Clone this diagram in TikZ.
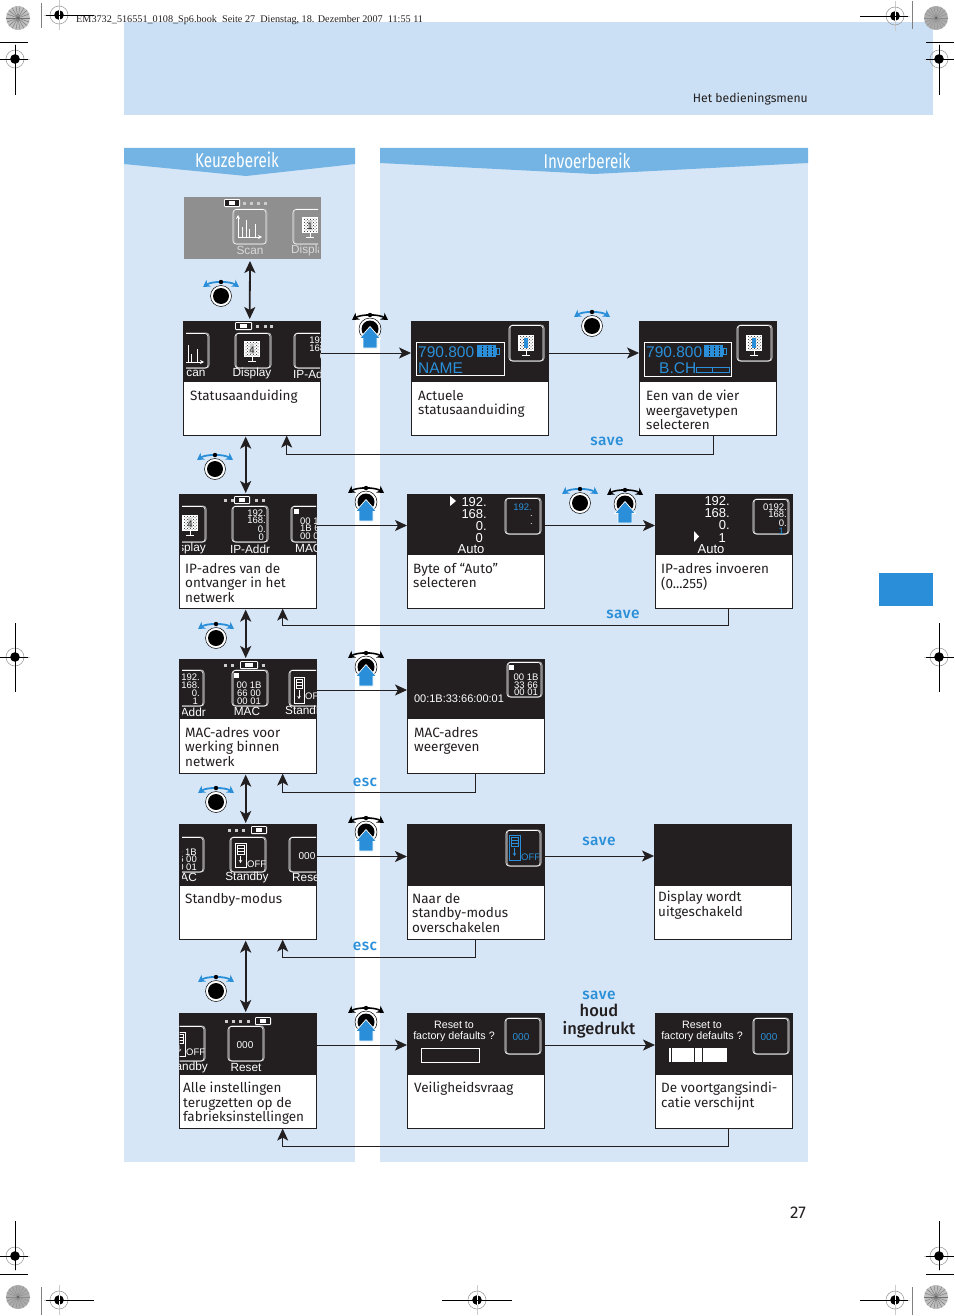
\documentclass[tikz,border=0pt]{standalone}
\usepackage{fontspec}
\setmainfont{Fira Sans}
\newfontfamily\medfont{Fira Sans Medium}
\newfontfamily\lcdfont{Liberation Sans}
\newfontfamily\topfont{Liberation Serif}
\usetikzlibrary{arrows.meta, patterns}

\definecolor{ink}{HTML}{231F20}
\definecolor{panelblue}{HTML}{D6E6F6}
\definecolor{bandblue}{HTML}{CBE0F4}
\definecolor{hdrblue}{HTML}{73B4E4}
\definecolor{accent}{HTML}{2A8FD8}

\tikzset{
  >={Stealth[length=12pt, width=11pt, inset=3pt]},
  card/.style = {draw = ink, line width = 0.8, fill = white, anchor = north west, inner sep = 0, outer sep = 0, minimum width = 137.4, minimum height = 114.6},
  screen/.style = {fill = ink, anchor = north west, inner sep = 0, outer sep = 0, minimum width = 137.4, minimum height = 61},
  cardtxt/.style = {anchor = north west, align = left, inner sep = 0, yshift = -1.8pt, text = ink, font = \fontsize{13.5}{14.5}\selectfont},
  keytxt/.style = {inner sep = 0, yshift = -1pt, text = accent, font = \medfont\addfontfeature{LetterSpace=3}\fontsize{15.5}{15.5}\selectfont},
  lcd/.style = {inner sep = 0, yshift = -0.8pt, text = white, font = \lcdfont\fontsize{11.8}{11.8}\selectfont},
  lcdnum/.style = {lcd, font = \lcdfont\fontsize{9.5}{9.5}\selectfont},
  lcdbig/.style = {lcd, font = \lcdfont\fontsize{13}{13}\selectfont},
  lcdtune/.style = {lcd, text = accent, font = \lcdfont\fontsize{15.5}{15.5}\selectfont},
  conn/.style = {ink, line width = 0.8},
  updown/.style = {ink, line width = 1.8},
  crop/.style = {black, line width = 0.9},
  icon/.style = {white, line width = 0.6, rounded corners = 3},
  iconshade/.style = {gray!70, line width = 1, rounded corners = 3},
}

\newcommand\iconbox[4]{
  \draw[iconshade] (#1 + 1, #2) rectangle (#3 + 1, #4);
  \draw[icon] (#1, #2 + 0.5) rectangle (#3, #4);
}
\newcommand\monitor[4]{
  \fill[white] (#1 - 8, #2 - 8) rectangle (#1 + 8, #2 + 8);
  \fill[pattern = crosshatch dots, pattern color = ink] (#1 - 6.5, #2 - 6.5) rectangle (#1 + 6.5, #2 + 6.5);
  \fill[#4] (#1 - 2, #2 - 5) rectangle (#1 + 2, #2 + 5);
  \draw[white, line width = 0.9] (#1, #2 + 8) -- (#1, #2 + 12) (#1 - 4, #2 + 12) -- (#1 + 4, #2 + 12);
  \node[lcdnum, text = ink] (mon#1) at (#1, #2) {#3};
}
\newcommand\scanplot[2]{
  \draw[white, line width = 0.6, -{Stealth[length=4pt, width=4pt]}] (#1, #2) -- (#1 + 24, #2);
  \draw[white, line width = 0.6, -{Stealth[length=4pt, width=4pt]}] (#1, #2) -- (#1, #2 - 22);
  \draw[white, line width = 0.6] (#1 + 4, #2) -- ++(0, -10) (#1 + 8, #2) -- ++(0, -17) (#1 + 11, #2) -- ++(0, -8) (#1 + 17, #2) -- ++(0, -13);
}
\newcommand\standbydoc[5]{
  \draw[#5, line width = 0.7] (#1, #2) rectangle (#3, #4);
  \draw[#5, line width = 0.5] (#1 + 2, #2 + 2) rectangle (#3 - 2, #2 + 11);
  \draw[#5, line width = 0.5] (#1 + 2, #2 + 5) -- (#3 - 2, #2 + 5) (#1 + 2, #2 + 8) -- (#3 - 2, #2 + 8);
  \draw[#5, line width = 0.6, -{Stealth[length=3pt, width=3.5pt]}] ({(#1 + #3) / 2}, #2 + 13) -- ({(#1 + #3) / 2}, #4 - 4);
}
\newcommand\battery[3]{
  \fill[white, rounded corners = 1] (#1, #3 - 4) rectangle (#2, #3 + 4);
  \fill[ink] (#1 + 1.3, #3 - 2.7) rectangle (#2 - 1.5, #3 + 2.7);
  \fill[white] (#1 + 5, #3 - 2) rectangle (#2 - 5, #3 + 2);
}
\newcommand\menudots[2]{
  \foreach \px in {#2} {
    \fill[white!80!black] (\px - 1.5, #1 - 1.5) rectangle (\px + 1.5, #1 + 1.5);
  }
}
\newcommand\tunebatt[2]{
  \fill[accent] (#1, #2) rectangle (#1 + 19, #2 + 12);
  \draw[accent, line width = 0.8] (#1 + 19, #2 + 3) rectangle (#1 + 22, #2 + 9);
  \draw[ink, line width = 0.5, densely dotted] (#1 + 5, #2 + 1) -- (#1 + 5, #2 + 11) (#1 + 10, #2 + 1) -- (#1 + 10, #2 + 11) (#1 + 15, #2 + 1) -- (#1 + 15, #2 + 11);
}
\newcommand\knobturn[2]{
  \draw[accent, line width = 1.8, {Stealth[length=7pt, width=8pt]}-{Stealth[length=7pt, width=8pt]}] (#1 - 18, #2 - 9) .. controls (#1 - 9, #2 - 15) and (#1 + 9, #2 - 15) .. (#1 + 18, #2 - 9);
  \fill[black] (#1, #2 - 14) circle (2.2pt);
  \fill[white] (#1, #2) circle (10.5pt);
  \draw[black, line width = 0.5] (#1, #2) circle (10.5pt);
  \fill[black] (#1, #2) circle (8pt);
}
\newcommand\knobpress[2]{
  \draw[black, line width = 1.6, {Stealth[length=7pt, width=8pt]}-{Stealth[length=7pt, width=8pt]}] (#1 - 18, #2 - 9) .. controls (#1 - 9, #2 - 15) and (#1 + 9, #2 - 15) .. (#1 + 18, #2 - 9);
  \fill[black] (#1, #2 - 14) circle (2.2pt);
  \fill[white] (#1, #2) circle (11pt);
  \draw[black, line width = 0.5] (#1, #2) circle (11pt);
  \fill[black] (#1, #2) circle (8.5pt);
  \draw[white, line width = 0.7, fill = accent] (#1, #2 - 2.5) -- (#1 + 10.5, #2 + 9.5) -- (#1 + 7, #2 + 9.5) -- (#1 + 7, #2 + 19) -- (#1 - 7, #2 + 19) -- (#1 - 7, #2 + 9.5) -- (#1 - 10.5, #2 + 9.5) -- cycle;
}
\newcommand\regmark[2]{
  \draw[gray!40, line width = 0.4] (#1, #2 - 15) -- (#1, #2 + 15) (#1 - 15, #2) -- (#1 + 15, #2);
  \draw[gray!75, line width = 0.6] (#1, #2) circle (9pt);
  \fill[black] (#1, #2) circle (4.8pt);
  \draw[white, line width = 0.5] (#1 - 5, #2) -- (#1 + 5, #2) (#1, #2 - 5) -- (#1, #2 + 5);
}
\newcommand\regdisc[4]{
  \fill[gray!#3] (#1, #2) circle (12pt);
  \foreach \ang in {0, 20, ..., 340} {
    \draw[black!#4, line width = 0.4] (#1, #2) -- ++(\ang:12);
  }
  \fill[black!60] (#1, #2) circle (1.5pt);
}

\begin{document}
\begin{tikzpicture}[x = 1pt, y = -1pt]
\useasboundingbox (0, 0) rectangle (954, 1316);

% panels
\fill[bandblue] (124, 22) rectangle (933, 115);
\fill[panelblue] (124, 148) rectangle (355, 1162);
\fill[panelblue] (380, 148) rectangle (808, 1162);
\fill[hdrblue] (124, 148) -- (355, 148) -- (355, 164) -- (246, 176) -- (124, 164) -- cycle;
\fill[hdrblue] (380, 148) -- (808, 148) -- (808, 163) -- (594, 174) -- (380, 163) -- cycle;
\fill[accent] (879, 573) rectangle (933, 606);
\node[white, inner sep = 0, font = \fontsize{20}{20}\selectfont] (keuze) at (237, 160) {\scalebox{0.76}[1]{Keuzebereik}};
\node[white, inner sep = 0, font = \fontsize{20}{20}\selectfont] (invoer) at (587, 161) {\scalebox{0.76}[1]{Invoerbereik}};
\node[anchor = west, inner sep = 0, text = ink, font = \topfont\fontsize{10.2}{10.2}\selectfont] (bookline) at (76, 20) {EM3732\_516551\_0108\_Sp6.book\ \ Seite 27\ \ Dienstag, 18. Dezember 2007\ \ 11:55 11};
\node[anchor = east, inner sep = 0, text = ink, font = \fontsize{12.2}{12.2}\selectfont] (chapter) at (808, 99) {Het bedieningsmenu};
\node[inner sep = 0, text = ink, font = \fontsize{17}{17}\selectfont] (pagenr) at (798, 1213) {27};

% print marks
\regdisc{18}{18}{50}{55}
\regdisc{936}{18}{65}{45}
\regdisc{18}{1297}{65}{45}
\regdisc{936}{1297}{50}{55}
\regmark{59}{15}
\regmark{15}{59}
\regmark{895}{16}
\regmark{939}{59}
\regmark{15}{657}
\regmark{939}{657}
\regmark{15}{1256}
\regmark{939}{1256}
\regmark{59}{1300}
\regmark{477}{1300}
\regmark{895}{1300}
\draw[crop] (46, 15) -- (94, 15);
\draw[crop] (860, 16) -- (908, 16);
\draw[crop] (46, 1300) -- (94, 1300);
\draw[crop] (860, 1300) -- (908, 1300);
\draw[crop] (442, 1300) -- (512, 1300);
\draw[crop] (0, 59) -- (28, 59) (15, 45) -- (15, 95);
\draw[crop] (926, 59) -- (954, 59) (939, 45) -- (939, 95);
\draw[crop] (0, 657) -- (28, 657) (15, 623) -- (15, 692);
\draw[crop] (926, 657) -- (954, 657) (939, 623) -- (939, 692);
\draw[crop] (0, 1256) -- (28, 1256) (15, 1221) -- (15, 1270);
\draw[crop] (926, 1256) -- (954, 1256) (939, 1221) -- (939, 1270);
\draw[crop] (0, 42) -- (28, 42) (926, 42) -- (954, 42);
\draw[crop] (0, 1274) -- (28, 1274) (926, 1274) -- (954, 1274);
\draw[gray, line width = 0.7] (41.5, 3) -- (41.5, 28) (912.5, 1) -- (912.5, 29);
\draw[gray, line width = 0.7] (41.5, 1287) -- (41.5, 1315) (912.5, 1287) -- (912.5, 1315);

% cards, rows from top to bottom
\node[screen, fill = black!44, minimum width = 137, minimum height = 62] (scan) at (184, 197) {};
\node[card] (status) at (183, 321) {};
\node[card] (actueel) at (411, 321) {};
\node[card] (vier) at (639, 321) {};
\node[screen] (statusscr) at (183, 321) {};
\node[screen] (actueelscr) at (411, 321) {};
\node[screen] (vierscr) at (639, 321) {};
\node[card] (ipadres) at (179, 494) {};
\node[card] (byte) at (407, 494) {};
\node[card] (invoeren) at (655, 494) {};
\node[screen] (ipadresscr) at (179, 494) {};
\node[screen] (bytescr) at (407, 494) {};
\node[screen] (invoerenscr) at (655, 494) {};
\node[card] (mac) at (179, 659) {};
\node[card] (macshow) at (407, 659) {};
\node[screen, minimum height = 60] (macscr) at (179, 659) {};
\node[screen, minimum height = 60] (macshowscr) at (407, 659) {};
\node[card, minimum height = 115.6] (standby) at (179, 824) {};
\node[card, minimum height = 115.6] (naar) at (407, 824) {};
\node[card, minimum height = 115.6] (uit) at (654, 824) {};
\node[screen, minimum height = 62] (standbyscr) at (179, 824) {};
\node[screen, minimum height = 62] (naarscr) at (407, 824) {};
\node[screen, minimum height = 62] (uitscr) at (654, 824) {};
\node[card, minimum height = 115.6] (alles) at (179, 1013) {};
\node[card, minimum height = 115.6] (veilig) at (407, 1013) {};
\node[card, minimum height = 115.6] (voort) at (655, 1013) {};
\node[screen, minimum height = 62] (allesscr) at (179, 1013) {};
\node[screen, minimum height = 62] (veiligscr) at (407, 1013) {};
\node[screen, minimum height = 62] (voortscr) at (655, 1013) {};

% card texts
\node[cardtxt] (tstatus) at (190, 388) {Statusaanduiding};
\node[cardtxt] (tactueel) at (418, 388) {Actuele\\statusaanduiding};
\node[cardtxt] (tvier) at (646, 388) {Een van de vier\\weergavetypen\\selecteren};
\node[cardtxt] (tipadres) at (185, 561) {IP-adres van de\\ontvanger in het\\netwerk};
\node[cardtxt] (tbyte) at (413, 561) {Byte of ``Auto''\\selecteren};
\node[cardtxt] (tinvoeren) at (661, 561) {IP-adres invoeren\\(0...255)};
\node[cardtxt] (tmac) at (185, 725) {MAC-adres voor\\werking binnen\\netwerk};
\node[cardtxt] (tmacshow) at (414, 725) {MAC-adres\\weergeven};
\node[cardtxt] (tstandby) at (185, 891) {Standby-modus};
\node[cardtxt] (tnaar) at (412, 891) {Naar de\\standby-modus\\overschakelen};
\node[cardtxt] (tuit) at (658, 889) {Display wordt\\uitgeschakeld};
\node[cardtxt] (talles) at (183, 1080) {Alle instellingen\\terugzetten op de\\fabrieksinstellingen};
\node[cardtxt] (tveilig) at (414, 1080) {Veiligheidsvraag};
\node[cardtxt] (tvoort) at (661, 1080) {De voortgangsindi-\\catie verschijnt};

% display contents
\begin{scope}
\clip (184, 197) rectangle (318, 259);
\menudots{203}{244, 251, 258, 265}
\battery{224}{240}{203}
\iconbox{233}{209}{266}{244}
\scanplot{238}{237}
\iconbox{293}{209}{328}{244}
\monitor{310}{225}{1}{gray!40}
\node[lcd, text = white!85!black] (lscan) at (250, 250) {Scan};
\node[lcd, text = white!85!black, anchor = west] (ldispla) at (291, 250) {Display};
\end{scope}

\begin{scope}
\clip (186, 321) rectangle (320, 382);
\battery{235}{252}{326}
\menudots{326}{257, 265, 271}
\iconbox{170}{333}{208}{368}
\scanplot{180}{362}
\iconbox{235}{333}{270}{368}
\monitor{252}{349}{4}{gray!40}
\iconbox{294}{333}{340}{368}
\node[lcdnum, anchor = east] (l1a) at (328, 339) {192.};
\node[lcdnum, anchor = east] (l1b) at (328, 347) {168.};
\node[lcdnum, anchor = east] (l1c) at (328, 355) {0.};
\node[lcdnum, anchor = east] (l1d) at (328, 362) {0};
\node[lcd] (l1e) at (196, 373) {can};
\node[lcd] (l1f) at (252, 373) {Display};
\node[lcd, anchor = west] (l1g) at (293, 373) {IP-Addr};
\end{scope}

\draw[white, line width = 0.7] (416, 342) rectangle (504, 375);
\node[lcdtune, anchor = west] (l2a) at (418, 351) {790.800};
\node[lcdtune, anchor = west] (l2b) at (418, 367) {NAME};
\tunebatt{477}{345}
\iconbox{509}{325}{543}{361}
\monitor{526}{343}{}{accent}

\draw[white, line width = 0.7] (644, 342) rectangle (731, 376);
\node[lcdtune, anchor = west] (l3a) at (646, 351) {790.800};
\node[lcdtune, anchor = west] (l3b) at (659, 367) {B.CH};
\tunebatt{704}{345}
\draw[accent, line width = 0.6] (696, 367) rectangle (712, 372) (712, 367) rectangle (729, 372);
\iconbox{737}{325}{771}{361}
\monitor{754}{343}{}{accent}

\begin{scope}
\clip (182, 494) rectangle (316, 556);
\menudots{500}{225, 232, 256, 263}
\battery{234}{250}{500}
\iconbox{165}{506}{205}{542}
\monitor{190}{523}{4}{gray!40}
\iconbox{232}{506}{267}{542}
\node[lcdnum, anchor = east] (l4a) at (266, 512) {192.};
\node[lcdnum, anchor = east] (l4b) at (266, 519) {168.};
\node[lcdnum, anchor = east] (l4c) at (266, 528) {0.};
\node[lcdnum, anchor = east] (l4d) at (264, 536) {0};
\iconbox{291}{506}{335}{542}
\fill[white] (293.5, 508.5) rectangle (298.5, 513.5);
\node[lcdnum, anchor = west] (l4e) at (300, 520) {00 1B};
\node[lcdnum, anchor = west] (l4f) at (300, 527) {1B 66};
\node[lcdnum, anchor = west] (l4g) at (300, 535) {00 00};
\node[lcd, anchor = east] (l4h) at (206, 548) {Display};
\node[lcd] (l4i) at (250, 548) {IP-Addr};
\node[lcd, anchor = west] (l4j) at (295, 548) {MAC};
\end{scope}

\fill[white] (450, 496) -- (456, 501) -- (450, 506) -- cycle;
\node[lcdbig, anchor = east] (l5a) at (487, 501) {192.};
\node[lcdbig, anchor = east] (l5b) at (487, 513) {168.};
\node[lcdbig, anchor = east] (l5c) at (487, 525) {0.};
\node[lcdbig, anchor = east] (l5d) at (483, 537) {0};
\node[lcdbig] (l5e) at (471, 548) {Auto};
\iconbox{505}{498}{540}{534}
\node[lcdnum, text = accent, anchor = east] (l5f) at (532, 506) {192.};
\node[lcdnum, anchor = east] (l5g) at (533, 515) {.};
\node[lcdnum, anchor = east] (l5h) at (533, 523) {.};

\node[lcdbig, anchor = east] (l6a) at (730, 500) {192.};
\node[lcdbig, anchor = east] (l6b) at (730, 512) {168.};
\node[lcdbig, anchor = east] (l6c) at (730, 524) {0.};
\node[lcdbig, anchor = east] (l6d) at (726, 537) {1};
\fill[white] (694, 531) -- (699, 536.5) -- (694, 542) -- cycle;
\node[lcdbig] (l6e) at (711, 548) {Auto};
\iconbox{753}{499}{788}{534}
\node[lcdnum, anchor = east] (l6f) at (787, 506) {0192.};
\node[lcdnum, anchor = east] (l6g) at (787, 513) {168.};
\node[lcdnum, anchor = east] (l6h) at (787, 522) {0.};
\node[lcdnum, text = accent, anchor = east] (l6i) at (784, 530) {1};

\begin{scope}
\clip (182, 659) rectangle (316, 719);
\menudots{665}{225, 232, 263}
\battery{240}{258}{665}
\iconbox{160}{670}{203}{706}
\node[lcdnum, anchor = east] (l7a) at (200, 676) {192.};
\node[lcdnum, anchor = east] (l7b) at (200, 684) {168.};
\node[lcdnum, anchor = east] (l7c) at (200, 692) {0.};
\node[lcdnum, anchor = east] (l7d) at (198, 700) {1};
\iconbox{232}{670}{267}{706}
\fill[white] (233.5, 672.5) rectangle (238.5, 677.5);
\node[lcdnum] (l7e) at (249, 684) {00 1B};
\node[lcdnum] (l7f) at (249, 692) {66 00};
\node[lcdnum] (l7g) at (249, 700) {00 01};
\iconbox{289}{670}{335}{706}
\standbydoc{294}{677}{304}{703}{white}
\node[lcdnum, anchor = west] (l7h) at (305, 695) {OFF};
\node[lcd, anchor = east] (l7i) at (206, 711) {IP-Addr};
\node[lcd] (l7j) at (247, 711) {MAC};
\node[lcd, anchor = west] (l7k) at (285, 711) {Standby};
\end{scope}

\node[lcd, font = \lcdfont\fontsize{11}{11}\selectfont] (l8a) at (459, 698) {00:1B:33:66:00:01};
\iconbox{507}{662}{541}{697}
\fill[white] (508.5, 664.5) rectangle (513.5, 669.5);
\node[lcdnum] (l8b) at (526, 676) {00 1B};
\node[lcdnum] (l8c) at (526, 684) {33 66};
\node[lcdnum] (l8d) at (526, 691) {00 01};

\begin{scope}
\clip (182, 824) rectangle (316, 886);
\menudots{830}{229, 236, 243}
\battery{251}{267}{830}
\iconbox{160}{837}{203}{872}
\node[lcdnum, anchor = east] (l9a) at (197, 851) {00 1B};
\node[lcdnum, anchor = east] (l9b) at (197, 858) {66 00};
\node[lcdnum, anchor = east] (l9c) at (197, 866) {00 01};
\iconbox{230}{837}{265}{872}
\standbydoc{235}{843}{246}{867}{white}
\node[lcdnum, anchor = west] (l9d) at (247, 863) {OFF};
\iconbox{289}{837}{335}{872}
\node[lcd, font = \lcdfont\fontsize{10}{10}\selectfont] (l9e) at (307, 855) {000};
\node[lcd, anchor = east] (l9f) at (197, 877) {MAC};
\node[lcd] (l9g) at (247, 877) {Standby};
\node[lcd, anchor = west] (l9h) at (292, 877) {Reset};
\end{scope}

\iconbox{506}{830}{540}{866}
\standbydoc{509}{835}{520}{860}{accent}
\node[lcdnum, text = accent, anchor = west] (l10a) at (521, 856) {OFF};

\begin{scope}
\clip (179.5, 1013) rectangle (316, 1075);
\menudots{1021}{226, 233, 240, 248}
\battery{255}{271}{1021}
\iconbox{160}{1026}{204}{1061}
\standbydoc{174}{1032}{185}{1056}{white}
\node[lcdnum, anchor = west] (l11a) at (186, 1051) {OFF};
\iconbox{228}{1026}{263}{1061}
\node[lcd, font = \lcdfont\fontsize{10}{10}\selectfont] (l11b) at (245, 1044) {000};
\node[lcd, anchor = east] (l11c) at (208, 1067) {Standby};
\node[lcd] (l11d) at (246, 1067) {Reset};
\end{scope}

\node[lcd, font = \lcdfont\fontsize{10.7}{10.7}\selectfont] (l12a) at (454, 1024) {Reset to};
\node[lcd, font = \lcdfont\fontsize{10.7}{10.7}\selectfont] (l12b) at (454, 1036) {factory defaults ?};
\draw[white, line width = 0.7] (421, 1048) rectangle (479, 1062);
\iconbox{505}{1018}{540}{1054}
\node[lcd, text = accent, font = \lcdfont\fontsize{10}{10}\selectfont] (l12c) at (521, 1036) {000};

\node[lcd, font = \lcdfont\fontsize{10.7}{10.7}\selectfont] (l13a) at (702, 1024) {Reset to};
\node[lcd, font = \lcdfont\fontsize{10.7}{10.7}\selectfont] (l13b) at (702, 1036) {factory defaults ?};
\fill[white] (669, 1048) rectangle (727, 1062);
\draw[ink, line width = 0.7] (671, 1048) -- (671, 1062) (694, 1048) -- (694, 1062) (702, 1048) -- (702, 1062);
\iconbox{753}{1018}{788}{1054}
\node[lcd, text = accent, font = \lcdfont\fontsize{10}{10}\selectfont] (l13c) at (769, 1036) {000};

% turning between the menu items
\draw[updown, <->] ([xshift = -2.5pt, yshift = -2pt]scan.south) -- ([xshift = -2pt, yshift = 2pt]status.north);
\draw[updown, <->] ([xshift = -6pt, yshift = -1pt]status.south) -- ([xshift = -2pt, yshift = 1pt]ipadres.north);
\draw[updown, <->] ([xshift = -2pt, yshift = -1pt]ipadres.south) -- ([xshift = -2pt, yshift = 1pt]mac.north);
\draw[updown, <->] ([xshift = -2pt, yshift = -1pt]mac.south) -- ([xshift = -2pt, yshift = 1pt]standby.north);
\draw[updown, <->] ([xshift = -2pt, yshift = -1pt]standby.south) -- ([xshift = -2pt, yshift = 1pt]alles.north);

% going on to the next step
\draw[conn, ->] ([xshift = 1pt, yshift = -1.5pt]statusscr.east) -- ([yshift = -1.5pt]actueelscr.west);
\draw[conn, ->] ([yshift = -1.5pt]actueelscr.east) -- ([yshift = -1.5pt]vierscr.west);
\draw[conn, ->] ([yshift = -1pt]ipadresscr.east) -- ([yshift = -1pt]bytescr.west);
\draw[conn, ->] ([yshift = -1pt]bytescr.east) -- ([yshift = -1pt]invoerenscr.west);
\draw[conn, ->] ([xshift = 1pt, yshift = -1pt]macscr.east) -- ([yshift = -1pt]macshowscr.west);
\draw[conn, line width = 1.6, ->] ([xshift = 1pt, yshift = -1.5pt]standbyscr.east) -- ([yshift = -1.5pt]naarscr.west);
\draw[conn, ->] ([yshift = -1pt]naarscr.east) -- ([yshift = -1pt]uitscr.west);
\draw[conn, ->] ([xshift = 1pt, yshift = -1pt]allesscr.east) -- ([yshift = -1pt]veiligscr.west);
\draw[conn, ->] ([yshift = -1pt]veiligscr.east) -- ([yshift = -1pt]voortscr.west);

% going back
\draw[conn, ->] ([xshift = 6pt]vier.south) -- ++(0, 19) -| ([xshift = 35pt]status.south);
\draw[conn, line width = 1.3, ->] ([xshift = 5pt]invoeren.south) -- ++(0, 17) -| ([xshift = 35pt]ipadres.south);
\draw[conn, ->] (macshow.south) -- ++(0, 19) -| ([xshift = 35pt]mac.south);
\draw[conn, line width = 1.2, ->] (naar.south) -- ++(0, 18) -| ([xshift = 35pt]standby.south);
\draw[conn, ->] ([xshift = 5pt]voort.south) -- ++(0, 18) -| ([xshift = 35pt]alles.south);

\node[keytxt] (save1) at (607, 440) {save};
\node[keytxt] (save2) at (623, 613) {save};
\node[keytxt] (esc1) at (365, 781) {esc};
\node[keytxt] (save3) at (599, 840) {save};
\node[keytxt] (esc2) at (365, 945) {esc};
\node[keytxt] (save4) at (599, 994) {save};
\node[inner sep = 0, align = center, text = ink, font = \medfont\fontsize{16.5}{18}\selectfont] (houd) at (599, 1021) {houd\\ingedrukt};

% knobs
\knobturn{221}{296}
\knobturn{215}{469}
\knobturn{216}{638}
\knobturn{216}{802}
\knobturn{216}{991}
\knobturn{592}{326}
\knobturn{580}{503}
\knobpress{370}{329}
\knobpress{366}{502}
\knobpress{625}{504}
\knobpress{366}{667}
\knobpress{366}{832}
\knobpress{366}{1022}
\end{tikzpicture}
\end{document}
